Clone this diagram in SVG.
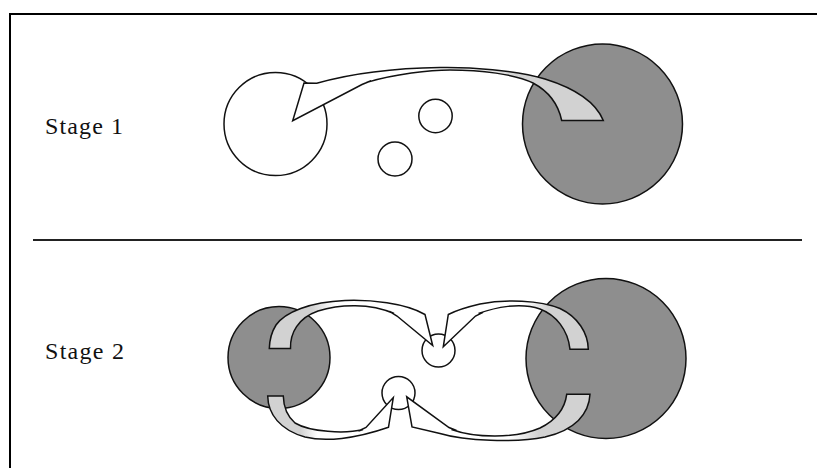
<svg xmlns="http://www.w3.org/2000/svg" width="817" height="468" viewBox="0 0 817 468">
<style>
.frame{stroke:#000;stroke-width:2;fill:none}
.divider{stroke:#222;stroke-width:2}
.dark{fill:#8e8e8e;stroke:#111;stroke-width:1.5}
.light{fill:#fff;stroke:#111;stroke-width:1.5}
.arrow{stroke:#111;stroke-width:1.5;stroke-linejoin:miter}
.label{font-family:"Liberation Serif","Times New Roman",serif;font-size:24px;fill:#111}
</style>
<defs>
<linearGradient id="fadeL" x1="0" y1="0" x2="1" y2="0">
<stop offset="0" stop-color="#d2d2d2"/><stop offset="0.26" stop-color="#d2d2d2"/><stop offset="0.4" stop-color="#fff"/><stop offset="1" stop-color="#fff"/>
</linearGradient>
<linearGradient id="fadeR" x1="0" y1="0" x2="1" y2="0">
<stop offset="0" stop-color="#fff"/><stop offset="0.56" stop-color="#fff"/><stop offset="0.72" stop-color="#d2d2d2"/><stop offset="1" stop-color="#d2d2d2"/>
</linearGradient>
</defs>
<rect width="817" height="468" fill="#fff"/>
<path class="frame" d="M10,468 L10,14 L817,14"/>
<line class="divider" x1="33" y1="240" x2="802" y2="240"/>

<g id="label-stage1"><text class="label" x="45" y="134" textLength="78" lengthAdjust="spacing">Stage 1</text></g>
<g id="label-stage2"><text class="label" x="45" y="358.5" textLength="79" lengthAdjust="spacing">Stage 2</text></g>

<g id="s1-source"><circle class="light" cx="275.5" cy="124" r="51.5"/></g>
<g id="s1-small-a"><circle class="light" cx="435.5" cy="116" r="16.7"/></g>
<g id="s1-small-b"><circle class="light" cx="395" cy="159" r="17"/></g>
<g id="s1-target"><circle class="dark" cx="602.5" cy="124" r="80"/></g>

<g id="s2-left"><circle class="dark" cx="279" cy="357.5" r="51"/></g>
<g id="s2-right"><circle class="dark" cx="606" cy="358.5" r="80"/></g>
<g id="s2-small-top"><circle class="light" cx="438.5" cy="350.5" r="16.5"/></g>
<g id="s2-small-bottom"><circle class="light" cx="398.5" cy="393" r="16.5"/></g>

<g id="connectors">
<path id="s1-arrow" class="arrow" fill="url(#fadeR)" d="M561.7,120.5 L603.3,120.5 C597,105 580,90 545,79 C515,70 470,67 440,67.5 C400,68 360,71 316.7,83.3 L304,83 L292.7,120.7 L362,84.5 L371,80.8 L366,82.6 C395,74 430,70 450,70 C480,70 515,74 533,83 C548,91 558,103 561.7,120.5 Z"/>
<path id="s2-arrow-tl" class="arrow" fill="url(#fadeL)" d="M269.3,348.5 L290.5,348.5 C290,333 298,318 318,311 C340,304 370,303 394,313.5 L389.5,311.3 L397,316 L432.7,345.5 L425,314.5 C405,303 370,299.5 345,300.5 C310,302 285,312 276,325 C271,333 269.5,341 269.3,348.5 Z"/>
<path id="s2-arrow-tr" class="arrow" fill="url(#fadeR)" d="M570,349.3 L588.3,349.3 C588,333 578,317 560,308.5 C540,300 505,299 480,304 C465,307.5 455,311 448.3,314.5 L443.3,346.7 L475.5,316 L483,312.3 L478.5,313.5 C495,307.5 520,302 540,309 C556,315 568,330 570,349.3 Z"/>
<path id="s2-arrow-bl" class="arrow" fill="url(#fadeL)" d="M267.7,396 L283.3,396 C283.5,406 287,416 295,423 C310,432 345,434 363,429.5 L358.5,431 L366,427.5 L393.3,397.5 L388.5,427.3 C355,439 325,442 305,437 C280,430 268,414 267.7,396 Z"/>
<path id="s2-arrow-br" class="arrow" fill="url(#fadeR)" d="M566.7,394.3 L590,394.3 C589,414 575,430 545,437 C515,443 465,441 440,433.5 L412,427 L406.7,396.8 L449,427.5 L456.5,430.5 L451.5,429.5 C475,438 515,439 540,428 C556,420 565,408 566.7,394.3 Z"/>
</g>
</svg>
